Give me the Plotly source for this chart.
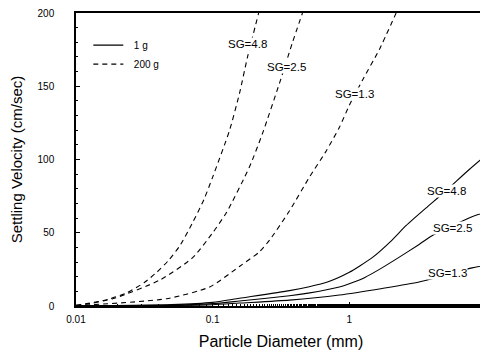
import math
import plotly.graph_objects as go

# Particle diameter (mm) and settling velocity (cm/sec)
d_200g_sg48 = [0.01, 0.0133, 0.0178, 0.0236, 0.0316, 0.039, 0.0474, 0.0574, 0.0714, 0.0866, 0.1, 0.133, 0.157, 0.18, 0.217]
v_200g_sg48 = [0.5, 2, 5, 9, 16, 23, 31, 41, 57, 73, 88, 120, 145, 170, 200]

d_200g_sg25 = [0.01, 0.0186, 0.041, 0.0714, 0.1, 0.1265, 0.186, 0.232, 0.308, 0.384, 0.454]
v_200g_sg25 = [0.5, 5, 17.7, 33, 50, 64, 95, 118, 152, 180, 200]

d_200g_sg13 = [0.01, 0.0461, 0.0951, 0.157, 0.22, 0.261, 0.365, 0.511, 0.679, 0.846, 1.0, 1.245, 1.656, 2.2]
v_200g_sg13 = [0.2, 5, 13, 27, 37, 45, 65, 88, 106, 122, 137, 154, 175, 200]

d_1g_sg48 = [0.01, 0.05, 0.1, 0.157, 0.365, 0.5, 0.7, 1.0, 1.2, 1.47, 2.0, 2.61, 3.65, 5.0, 7.5, 10]
v_1g_sg48 = [0.1, 1, 2.5, 5.3, 10.5, 13, 16.5, 23, 27.5, 33, 44, 55, 67, 78, 93, 103]

d_1g_sg25 = [0.01, 0.05, 0.1, 0.157, 0.365, 0.5, 0.845, 1.0, 1.3, 1.66, 2.2, 3.24, 4.03, 7.9, 10]
v_1g_sg25 = [0.1, 0.6, 1.6, 3.4, 7, 8.8, 13, 15.2, 19.5, 25, 32, 42, 48, 61, 64]

d_1g_sg13 = [0.01, 0.05, 0.1, 0.157, 0.365, 0.845, 1.74, 3.24, 7.9, 10]
v_1g_sg13 = [0.05, 0.3, 0.9, 2, 4, 7.5, 12, 16.4, 26, 28]

x_tickvals = [0.01, 0.1, 1, 10]
x_ticktext = ["0.01", "0.1", "1", "10"]
y_tickvals = [0, 50, 100, 150, 200]

# label text, diameter (mm), velocity
labels_200g = [("SG=4.8", 0.181, 179), ("SG=2.5", 0.344, 163), ("SG=1.3", 1.10, 145)]
labels_1g = [("SG=4.8", 5.18, 78.5), ("SG=2.5", 5.73, 53), ("SG=1.3", 5.26, 22.5)]

NB = "\u00a0\u00a0"

fig = go.Figure()

series = [
    (d_1g_sg48, v_1g_sg48, "solid", "1 g", True),
    (d_1g_sg25, v_1g_sg25, "solid", "1 g", False),
    (d_1g_sg13, v_1g_sg13, "solid", "1 g", False),
    (d_200g_sg48, v_200g_sg48, "5px,4px", "200 g", True),
    (d_200g_sg25, v_200g_sg25, "5px,4px", "200 g", False),
    (d_200g_sg13, v_200g_sg13, "5px,4px", "200 g", False),
]
for xs, ys, dash, name, show in series:
    fig.add_trace(go.Scatter(
        x=xs, y=ys, mode="lines", name=NB + name, showlegend=show,
        line=dict(color="black", width=1.1, dash=dash, shape="spline", smoothing=0.6),
    ))

for text, x, y in labels_200g + labels_1g:
    fig.add_annotation(x=math.log10(x), y=y, xref="x", yref="y", text=text, showarrow=False,
                       font=dict(family="Liberation Sans, Arial", size=11.5, color="black"),
                       bgcolor="white", borderpad=0)

fig.update_layout(
    width=480, height=345,
    margin=dict(l=68, r=2, t=5, b=47, autoexpand=False),
    paper_bgcolor="white", plot_bgcolor="white",
    font=dict(family="Liberation Sans, Arial", size=10, color="black"),
    legend=dict(x=0.03, y=0.94, xanchor="left", yanchor="top",
                bgcolor="rgba(0,0,0,0)", font=dict(size=10),
                tracegroupgap=0, itemwidth=30, traceorder="normal"),
)
fig.update_xaxes(
    type="log", range=[-2, 1], tickvals=x_tickvals, ticktext=x_ticktext,
    showgrid=False, zeroline=False, showline=True, linecolor="black", linewidth=1.5,
    mirror=True, ticks="inside", ticklen=4, tickcolor="black", automargin=False,
    minor=dict(ticks="inside", ticklen=2, tickcolor="black", showgrid=False),
    title=dict(text="Particle Diameter (mm)", font=dict(size=16), standoff=12),
    tickfont=dict(size=10), ticklabelstandoff=3, ticklabeloverflow="allow",
)
fig.update_yaxes(
    range=[0, 200], tickvals=y_tickvals,
    showgrid=False, zeroline=False, showline=True, linecolor="black", linewidth=1.5,
    mirror=True, ticks="inside", ticklen=4, tickcolor="black", automargin=False,
    minor=dict(ticks="inside", ticklen=2, dtick=10, tickcolor="black", showgrid=False),
    title=dict(text="Settling Velocity (cm/sec)", font=dict(size=15), standoff=12),
    tickfont=dict(size=10), ticklabelstandoff=18, ticklabeloverflow="allow",
)

fig.write_html("out.html")
